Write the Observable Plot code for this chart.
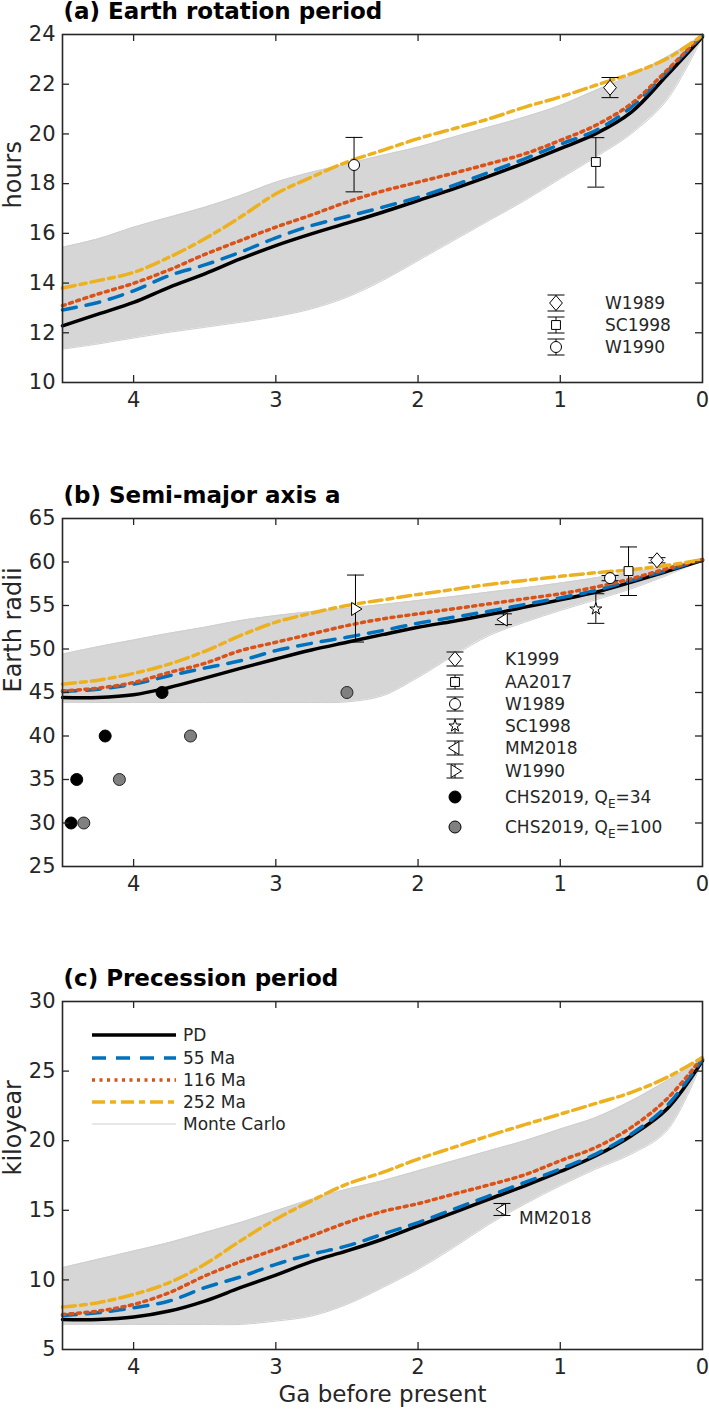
<!DOCTYPE html>
<html>
<head>
<meta charset="utf-8">
<script src="https://cdn.jsdelivr.net/npm/d3@7"></script>
<script src="https://cdn.jsdelivr.net/npm/@observablehq/plot@0.6"></script>
<style>
  body { margin: 0; background: #fff; }
  #chart { width: 709px; }
  #chart svg { display: block; }
</style>
</head>
<body>
<div id="chart"></div>
<script>
// ---------- shared x grid (Ga before present) ----------
const ga = [4.5, 4.25, 4.0, 3.75, 3.5, 3.25, 3.0, 2.75, 2.5, 2.25, 2.0, 1.75, 1.5, 1.25, 1.0, 0.75, 0.5, 0.25, 0.0];
const xTicks = [4, 3, 2, 1, 0];

// ---------- (a) Earth rotation period, hours ----------
const rotPD    = [12.28, 12.75, 13.22, 13.83, 14.37, 14.97, 15.51, 15.98, 16.41, 16.85, 17.32, 17.79, 18.30, 18.84, 19.41, 20.01, 20.88, 22.36, 23.91];
const rot55    = [12.92, 13.22, 13.69, 14.30, 14.73, 15.24, 15.82, 16.31, 16.68, 17.05, 17.45, 17.93, 18.46, 19.00, 19.58, 20.14, 21.08, 22.50, 23.97];
const rot116   = [13.09, 13.56, 13.99, 14.53, 15.15, 15.71, 16.25, 16.74, 17.26, 17.70, 18.06, 18.42, 18.80, 19.20, 19.74, 20.35, 21.22, 22.56, 24.00];
const rot252   = [13.80, 14.10, 14.43, 15.04, 15.78, 16.65, 17.59, 18.26, 18.87, 19.34, 19.81, 20.21, 20.61, 21.08, 21.49, 21.96, 22.43, 23.03, 23.97];
const rotMCmax = [15.44, 15.78, 16.25, 16.65, 17.05, 17.52, 18.06, 18.46, 18.80, 19.14, 19.47, 19.88, 20.28, 20.68, 21.15, 21.76, 22.36, 23.10, 23.97];
const rotMCmin = [11.34, 11.55, 11.79, 12.02, 12.22, 12.42, 12.65, 12.96, 13.43, 14.10, 14.90, 15.71, 16.52, 17.32, 18.20, 19.07, 20.01, 21.36, 23.91];
const rotTicks = [10, 12, 14, 16, 18, 20, 22, 24];
const rotObsRef = ["W1989", "SC1998", "W1990"];
const rotObsGa  = [0.65, 0.75, 2.45];
const rotObsVal = [21.86, 18.87, 18.75];
const rotObsLo  = [21.46, 17.86, 17.67];
const rotObsHi  = [22.27, 19.85, 19.86];

// ---------- (b) Semi-major axis, Earth radii ----------
const axPD    = [44.42, 44.42, 44.73, 45.58, 46.65, 47.77, 48.85, 49.88, 50.77, 51.65, 52.50, 53.19, 53.96, 54.81, 55.65, 56.54, 57.69, 58.92, 60.19];
const ax55    = [45.12, 45.38, 45.96, 46.92, 47.81, 48.65, 49.81, 50.65, 51.35, 52.12, 52.96, 53.65, 54.35, 55.12, 55.88, 56.73, 57.88, 59.04, 60.27];
const ax116   = [45.19, 45.50, 46.15, 47.31, 48.35, 49.81, 50.77, 51.73, 52.69, 53.46, 54.04, 54.62, 55.19, 55.77, 56.35, 57.12, 58.08, 59.23, 60.27];
const ax252   = [45.96, 46.42, 47.19, 48.27, 49.73, 51.54, 53.08, 54.12, 55.00, 55.65, 56.27, 56.85, 57.42, 57.88, 58.35, 58.77, 59.12, 59.62, 60.27];
const axMCmax = [49.42, 50.27, 51.04, 51.81, 52.50, 53.27, 53.85, 54.31, 54.69, 55.12, 55.58, 56.04, 56.54, 57.04, 57.58, 58.19, 58.85, 59.50, 60.27];
const axMCmin = [43.85, 43.85, 43.85, 43.85, 43.85, 43.85, 43.85, 43.85, 43.92, 44.62, 46.73, 49.23, 51.54, 53.08, 54.42, 55.65, 56.92, 58.46, 60.19];
const axTicks = [25, 30, 35, 40, 45, 50, 55, 60, 65];
const axObsRef = ["K1999", "AA2017", "W1989", "SC1998", "MM2018", "W1990"];
const axObsGa  = [0.32, 0.52, 0.65, 0.75, 1.40, 2.44];
const axObsVal = [60.20, 58.96, 58.15, 54.60, 53.38, 54.60];
const axObsLo  = [59.90, 56.15, 57.85, 52.95, 52.80, 50.80];
const axObsHi  = [60.50, 61.73, 58.45, 56.35, 54.04, 58.50];
const chs34Ga   = [4.44, 4.40, 4.20, 3.80];
const chs34Val  = [30, 35, 40, 45];
const chs100Ga  = [4.35, 4.10, 3.60, 2.50];
const chs100Val = [30, 35, 40, 45];

// ---------- (c) Precession period, kiloyear ----------
const prPD    = [7.16, 7.16, 7.33, 7.76, 8.48, 9.44, 10.35, 11.31, 12.08, 12.92, 13.88, 14.84, 15.80, 16.76, 17.79, 18.92, 20.36, 22.27, 25.75];
const pr55    = [7.45, 7.64, 8.00, 8.48, 9.44, 10.21, 11.12, 11.84, 12.44, 13.28, 14.12, 15.08, 16.04, 17.00, 17.96, 19.04, 20.48, 22.51, 25.87];
const pr116   = [7.52, 7.76, 8.24, 9.08, 10.28, 11.31, 12.20, 13.16, 14.12, 14.91, 15.48, 16.16, 16.83, 17.55, 18.56, 19.52, 20.96, 23.00, 26.00];
const pr252   = [8.05, 8.36, 8.96, 9.80, 11.12, 12.80, 14.36, 15.68, 16.88, 17.72, 18.68, 19.52, 20.36, 21.15, 21.91, 22.68, 23.47, 24.55, 25.99];
const prMCmax = [10.88, 11.48, 12.08, 12.68, 13.40, 14.12, 14.96, 15.80, 16.52, 17.12, 17.84, 18.56, 19.28, 20.00, 20.84, 21.67, 22.87, 24.31, 25.87];
const prMCmin = [6.80, 6.80, 6.80, 6.80, 6.80, 6.80, 7.04, 7.40, 8.24, 9.44, 10.76, 12.32, 14.00, 15.44, 16.76, 17.96, 19.04, 20.71, 25.75];
const prTicks = [5, 10, 15, 20, 25, 30];
const prObsRef = ["MM2018"];
const prObsGa  = [1.41];
const prObsVal = [15.06];
const prObsLo  = [14.63];
const prObsHi  = [15.49];

// ---------- legend labels ----------
const seriesLabels = ["PD", "55 Ma", "116 Ma", "252 Ma", "Monte Carlo"];

// ---------- styling ----------
const FONT = "'DejaVu Sans', sans-serif";
const AXC = "#262626";
const PLOT_H = 348;
const PLOT_W = 640;
const PX_PER_GA = PLOT_W / 4.5;
const lineStyles = {
  pd:  {stroke: "#000000", strokeWidth: 3.5},
  m55: {stroke: "#0072BD", strokeWidth: 3.5, strokeDasharray: "14,10"},
  m116:{stroke: "#D95319", strokeWidth: 3.5, strokeDasharray: "3,4.5"},
  m252:{stroke: "#EDB120", strokeWidth: 3.5, strokeDasharray: "13,5,6,5"},
  mc:  {stroke: "#cfcfcf", strokeWidth: 1}
};
const MC_FILL = "#d6d6d6";

// custom symbols (radius-based)
const rOf = size => Math.sqrt(size / Math.PI);
const capLine  = {draw(c, s) { const r = rOf(s); c.moveTo(-r, 0); c.lineTo(r, 0); }};
const diamondM = {draw(c, s) { const r = rOf(s); c.moveTo(0, -r); c.lineTo(r * 0.85, 0); c.lineTo(0, r); c.lineTo(-r * 0.85, 0); c.closePath(); }};
const triLeft  = {draw(c, s) { const r = rOf(s); c.moveTo(-r, 0); c.lineTo(r * 0.6, -r); c.lineTo(r * 0.6, r); c.closePath(); }};
const triRight = {draw(c, s) { const r = rOf(s); c.moveTo(r, 0); c.lineTo(-r * 0.6, -r); c.lineTo(-r * 0.6, r); c.closePath(); }};

const symA = {W1989: {type: diamondM, r: 7.5}, SC1998: {type: d3.symbolSquare, r: 5}, W1990: {type: d3.symbolCircle, r: 5.5}};
const symB = {K1999: {type: diamondM, r: 7.5}, AA2017: {type: d3.symbolSquare, r: 5}, W1989: {type: d3.symbolCircle, r: 5.5},
              SC1998: {type: d3.symbolStar, r: 3.8}, MM2018: {type: triLeft, r: 6.5}, W1990: {type: triRight, r: 6.5}};
const symC = {MM2018: {type: triLeft, r: 6}};

function table(mcLo, mcHi, pd, m55, m116, m252) {
  return ga.map((g, i) => ({ga: g, lo: mcLo[i], hi: mcHi[i], pd: pd[i], m55: m55[i], m116: m116[i], m252: m252[i]}));
}
function obsTable(ref, g, v, lo, hi) {
  return ref.map((r, i) => ({ref: r, ga: g[i], val: v[i], lo: lo[i], hi: hi[i]}));
}

function tickMarks(yDomain, yTicks) {
  const tx = 7 / PX_PER_GA;
  const ty = 7 * (yDomain[1] - yDomain[0]) / PLOT_H;
  const s = {stroke: AXC, strokeWidth: 1.3};
  const xt = xTicks.filter(d => d > 0 && d < 4.5);
  const yt = yTicks.filter(d => d > yDomain[0] && d < yDomain[1]);
  return [
    Plot.ruleX(xt, {x: d => d, y1: yDomain[0], y2: yDomain[0] + ty, ...s}),
    Plot.ruleX(xt, {x: d => d, y1: yDomain[1], y2: yDomain[1] - ty, ...s}),
    Plot.ruleY(yt, {y: d => d, x1: 4.5, x2: 4.5 - tx, ...s}),
    Plot.ruleY(yt, {y: d => d, x1: 0, x2: tx, ...s})
  ];
}

function errMarks(obs, syms) {
  const s = {stroke: "#000", strokeWidth: 1};
  return [
    Plot.ruleX(obs, {x: "ga", y1: "lo", y2: "hi", ...s}),
    Plot.dot(obs, {x: "ga", y: "lo", symbol: capLine, r: 8.5, fill: "none", ...s}),
    Plot.dot(obs, {x: "ga", y: "hi", symbol: capLine, r: 8.5, fill: "none", ...s}),
    ...obs.map(o => Plot.dot([o], {x: "ga", y: "val", symbol: syms[o.ref].type, r: syms[o.ref].r, fill: "white", ...s}))
  ];
}

function panel({height, rows, yDomain, yTicks, title, ylabel, obs, syms, extra = [], xlabel = null}) {
  const curve = "catmull-rom";
  return Plot.plot({
    width: 709, height,
    marginLeft: 62, marginRight: 709 - 62 - PLOT_W, marginTop: 34, marginBottom: height - 34 - PLOT_H,
    x: {domain: [4.5, 0], axis: null},
    y: {domain: yDomain, axis: null},
    style: {fontFamily: FONT, fontSize: "21px", color: AXC, background: "white", overflow: "visible"},
    marks: [
      Plot.areaY(rows, {x: "ga", y1: "lo", y2: "hi", fill: MC_FILL, curve}),
      Plot.lineY(rows, {x: "ga", y: "lo", ...lineStyles.mc, curve}),
      Plot.lineY(rows, {x: "ga", y: "hi", ...lineStyles.mc, curve}),
      Plot.lineY(rows, {x: "ga", y: "pd", ...lineStyles.pd, curve}),
      Plot.lineY(rows, {x: "ga", y: "m55", ...lineStyles.m55, curve}),
      Plot.lineY(rows, {x: "ga", y: "m116", ...lineStyles.m116, curve}),
      Plot.lineY(rows, {x: "ga", y: "m252", ...lineStyles.m252, curve}),
      ...extra,
      ...errMarks(obs, syms),
      ...tickMarks(yDomain, yTicks),
      Plot.frame({stroke: AXC, strokeWidth: 1.6}),
      Plot.axisX({ticks: xTicks, tickFormat: d => String(d), tickSize: 0, tickPadding: 10, fontSize: 21, label: null, color: AXC}),
      Plot.axisY({ticks: yTicks, tickFormat: d => String(d), tickSize: 0, tickPadding: 7, fontSize: 21, label: null, color: AXC}),
      Plot.text([title], {text: d => d, frameAnchor: "top-left", dx: 1, dy: -16, lineAnchor: "bottom", textAnchor: "start",
                          fontSize: 23, fontWeight: "bold", fill: "#000"}),
      Plot.text([ylabel], {text: d => d, frameAnchor: "left", rotate: -90, dx: -42, lineAnchor: "bottom", fontSize: 24, fill: AXC}),
      ...(xlabel ? [Plot.text([xlabel], {text: d => d, frameAnchor: "bottom", dy: 52, lineAnchor: "bottom", fontSize: 23, fill: AXC})] : [])
    ]
  });
}

// ---------- legend helpers (d3 drawn inside the Plot svg) ----------
function legendGroup(svg) {
  return d3.select(svg).append("g").attr("font-family", FONT).attr("font-size", 17)
    .attr("fill", AXC).attr("text-anchor", "start");
}
function legendErr(svg, items, xi, xt, ys, capH) {
  const g = legendGroup(svg);
  items.forEach((it, i) => {
    const y = ys[i];
    if (it.err) {
      g.append("line").attr("x1", xi).attr("x2", xi).attr("y1", y - capH).attr("y2", y + capH).attr("stroke", "#000");
      for (const yy of [y - capH, y + capH])
        g.append("line").attr("x1", xi - 8.5).attr("x2", xi + 8.5).attr("y1", yy).attr("y2", yy).attr("stroke", "#000");
    }
    g.append("path").attr("transform", `translate(${xi},${y})`)
      .attr("d", d3.symbol(it.type, Math.PI * it.r * it.r)())
      .attr("fill", it.fill).attr("stroke", "#000");
    const t = g.append("text").attr("x", xt).attr("y", y).attr("dy", "0.35em");
    if (it.sub) {
      t.append("tspan").text(it.label);
      t.append("tspan").attr("font-size", 12).attr("dy", 5).text(it.sub);
      t.append("tspan").attr("dy", -5).text(it.after);
    } else t.text(it.label);
  });
}
function legendLines(svg, x0, x1, xt, ys) {
  const g = legendGroup(svg);
  const keys = ["pd", "m55", "m116", "m252", "mc"];
  keys.forEach((k, i) => {
    const st = lineStyles[k];
    g.append("line").attr("x1", x0).attr("x2", x1).attr("y1", ys[i]).attr("y2", ys[i])
      .attr("stroke", st.stroke).attr("stroke-width", st.strokeWidth)
      .attr("stroke-dasharray", st.strokeDasharray || null);
    g.append("text").attr("x", xt).attr("y", ys[i]).attr("dy", "0.35em").text(seriesLabels[i]);
  });
}

// ---------- build ----------
const root = document.getElementById("chart");

const obsA = obsTable(rotObsRef, rotObsGa, rotObsVal, rotObsLo, rotObsHi);
const svgA = panel({
  height: 484, rows: table(rotMCmin, rotMCmax, rotPD, rot55, rot116, rot252),
  yDomain: [10, 24], yTicks: rotTicks, title: "(a) Earth rotation period", ylabel: "hours",
  obs: obsA, syms: symA
});
legendErr(svgA, rotObsRef.map(r => ({label: r, type: symA[r].type, r: symA[r].r, fill: "white", err: true})),
          556, 605, [303, 325, 347], 8);
root.appendChild(svgA);

const obsB = obsTable(axObsRef, axObsGa, axObsVal, axObsLo, axObsHi);
const chs34 = chs34Ga.map((g, i) => ({ga: g, val: chs34Val[i]}));
const chs100 = chs100Ga.map((g, i) => ({ga: g, val: chs100Val[i]}));
const svgB = panel({
  height: 483, rows: table(axMCmin, axMCmax, axPD, ax55, ax116, ax252),
  yDomain: [25, 65], yTicks: axTicks, title: "(b) Semi-major axis a", ylabel: "Earth radii",
  obs: obsB, syms: symB,
  extra: [
    Plot.dot(chs34, {x: "ga", y: "val", r: 6, fill: "#000000", stroke: "#000", strokeWidth: 1}),
    Plot.dot(chs100, {x: "ga", y: "val", r: 6, fill: "#808080", stroke: "#222", strokeWidth: 1})
  ]
});
legendErr(svgB, [
  ...axObsRef.map(r => ({label: r, type: symB[r].type, r: symB[r].r, fill: "white", err: true})),
  {label: "CHS2019, Q", sub: "E", after: "=34", type: d3.symbolCircle, r: 6, fill: "#000000", err: false},
  {label: "CHS2019, Q", sub: "E", after: "=100", type: d3.symbolCircle, r: 6, fill: "#808080", err: false}
], 455, 505, [175, 198, 220, 242, 264, 287, 313, 343], 7);
root.appendChild(svgB);

const obsC = obsTable(prObsRef, prObsGa, prObsVal, prObsLo, prObsHi);
const svgC = panel({
  height: 444, rows: table(prMCmin, prMCmax, prPD, pr55, pr116, pr252),
  yDomain: [5, 30], yTicks: prTicks, title: "(c) Precession period", ylabel: "kiloyear",
  obs: obsC, syms: symC, xlabel: "Ga before present",
  extra: [
    Plot.text(obsC, {x: "ga", y: "val", text: "ref", dx: 17, dy: 9, textAnchor: "start", fontSize: 17, fill: AXC})
  ]
});
root.appendChild(svgC);
legendLines(svgC, 92, 176, 183, [68, 91, 113, 135, 157]);
</script>
</body>
</html>
